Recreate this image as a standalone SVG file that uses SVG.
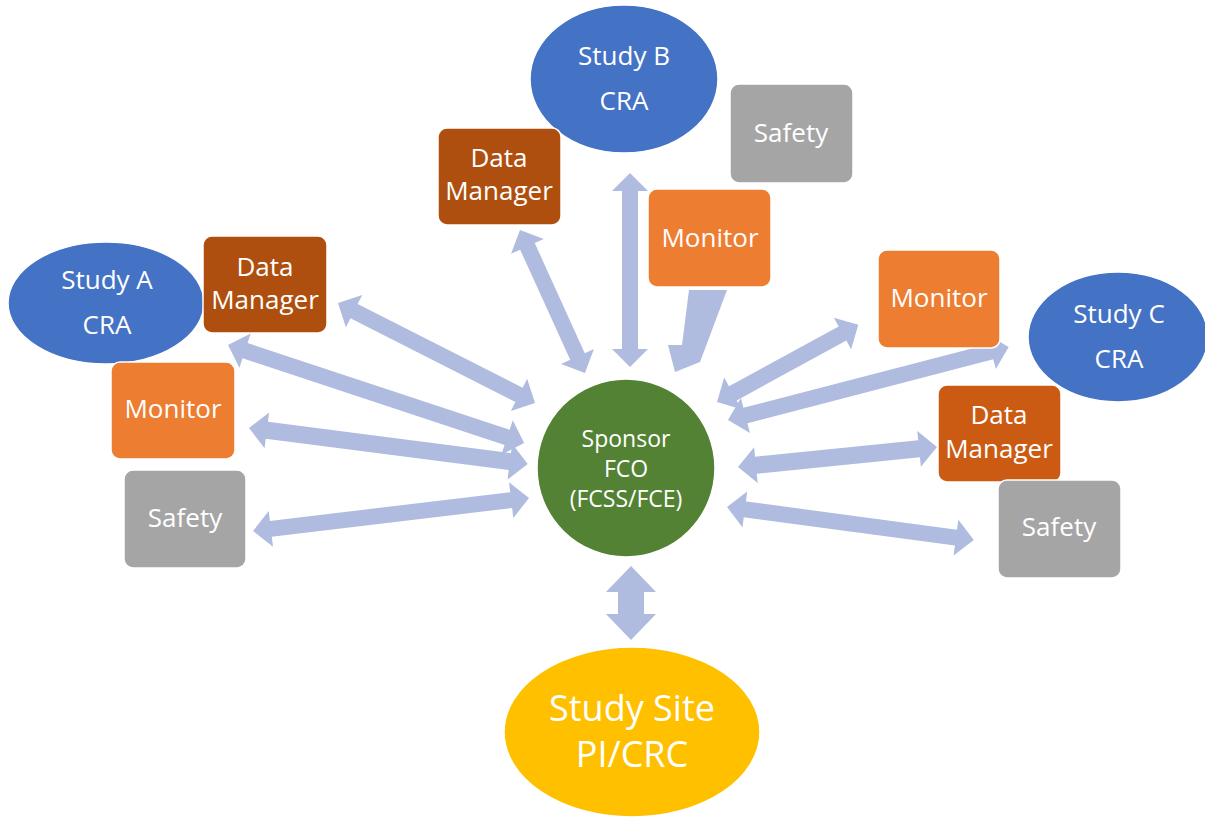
<svg xmlns="http://www.w3.org/2000/svg" width="1205" height="818" viewBox="0 0 1205 818">
<style>
.arr{fill:#AFBCDF}
.node{stroke:#FFFFFF;stroke-width:1.5}
.cra{fill:#4472C4}
.dmd{fill:#AF4F0F}
.dml{fill:#CB5B13}
.mon{fill:#ED7D31}
.saf{fill:#A5A5A5}
.sp{fill:#548235}
.site{fill:#FFC000}
text{font-family:"Open Sans","Noto Sans",sans-serif;fill:#FFFFFF;text-anchor:middle}
.t{font-size:26px}
.ts{font-size:23px}
.tb{font-size:36px}
</style>
<rect width="1205" height="818" fill="#FFFFFF"/>
<g id="connectors">
<polygon class="arr" transform="translate(338,303) rotate(26.92)" points="0,0 18,-18 18,-8 203,-8 203,-18 221,0 203,18 203,8 18,8 18,18"/>
<polygon class="arr" transform="translate(228,345) rotate(18.32)" points="0,0 18,-18 18,-8 294,-8 294,-18 312,0 294,18 294,8 18,8 18,18"/>
<polygon class="arr" transform="translate(249,428) rotate(7.35)" points="0,0 18,-18 18,-8.5 263,-8.5 263,-18 281,0 263,18 263,8.5 18,8.5 18,18"/>
<polygon class="arr" transform="translate(253,531) rotate(-6.82)" points="0,0 18,-18 18,-8 260,-8 260,-18 278,0 260,18 260,8 18,8 18,18"/>
<polygon class="arr" transform="translate(520,230) rotate(65.56)" points="0,0 18,-18 18,-8 139,-8 139,-18 157,0 139,18 139,8 18,8 18,18"/>
<polygon class="arr" transform="translate(630,173) rotate(90)" points="0,0 18,-18 18,-8 176,-8 176,-18 194,0 176,18 176,8 18,8 18,18"/>
<polygon class="arr" points="689,290 727,290 700,362 675,372 668,345 682,345"/>
<polygon class="arr" transform="translate(717,402) rotate(-28.64)" points="0,0 18,-18 18,-8 143,-8 143,-18 161,0 143,18 143,8 18,8 18,18"/>
<polygon class="arr" transform="translate(728,420) rotate(-14.56)" points="0,0 18,-18 18,-8 272,-8 272,-18 290,0 272,18 272,8 18,8 18,18"/>
<polygon class="arr" transform="translate(738,467) rotate(-5.74)" points="0,0 18,-18 18,-8.5 182,-8.5 182,-18 200,0 182,18 182,8.5 18,8.5 18,18"/>
<polygon class="arr" transform="translate(727,507) rotate(7.61)" points="0,0 18,-18 18,-8 231,-8 231,-18 249,0 231,18 231,8 18,8 18,18"/>
<polygon class="arr" transform="translate(631,566) rotate(90)" points="0,0 26,-25 26,-13 48,-13 48,-25 74,0 48,25 48,13 26,13 26,25"/>
</g>
<g id="studyA">
<ellipse class="node cra" cx="106" cy="303" rx="98" ry="61"/>
<text class="t" x="107" y="289">Study A</text>
<text class="t" x="107" y="334">CRA</text>
</g>
<g id="studyB">
<ellipse class="node cra" cx="624" cy="79" rx="94" ry="74"/>
<text class="t" x="624" y="65">Study B</text>
<text class="t" x="624" y="110">CRA</text>
</g>
<g id="studyC">
<ellipse class="node cra" cx="1118" cy="337" rx="90" ry="65"/>
<text class="t" x="1119" y="323">Study C</text>
<text class="t" x="1119" y="368">CRA</text>
</g>
<g id="dataManagerA">
<rect class="node dmd" x="203" y="236" width="124" height="97" rx="9"/>
<text class="t" x="265" y="276">Data</text>
<text class="t" x="265" y="309">Manager</text>
</g>
<g id="monitorA">
<rect class="node mon" x="111" y="362" width="124" height="97" rx="9"/>
<text class="t" x="173" y="418">Monitor</text>
</g>
<g id="safetyA">
<rect class="node saf" x="124" y="470" width="122" height="98" rx="9"/>
<text class="t" x="185" y="527">Safety</text>
</g>
<g id="dataManagerB">
<rect class="node dmd" x="438" y="128" width="123" height="97" rx="9"/>
<text class="t" x="499" y="167">Data</text>
<text class="t" x="499" y="200">Manager</text>
</g>
<g id="safetyB">
<rect class="node saf" x="730" y="84" width="123" height="99" rx="9"/>
<text class="t" x="791" y="142">Safety</text>
</g>
<g id="monitorB">
<rect class="node mon" x="648" y="189" width="123" height="98" rx="9"/>
<text class="t" x="710" y="247">Monitor</text>
</g>
<g id="monitorC">
<rect class="node mon" x="878" y="250" width="122" height="98" rx="9"/>
<text class="t" x="939" y="307">Monitor</text>
</g>
<g id="dataManagerC">
<rect class="node dml" x="938" y="385" width="123" height="97" rx="9"/>
<text class="t" x="999" y="424">Data</text>
<text class="t" x="999" y="458">Manager</text>
</g>
<g id="safetyC">
<rect class="node saf" x="998" y="480" width="123" height="98" rx="9"/>
<text class="t" x="1059" y="536">Safety</text>
</g>
<g id="sponsor">
<circle class="node sp" cx="626" cy="468" r="89"/>
<text class="ts" x="626" y="447">Sponsor</text>
<text class="ts" x="626" y="477">FCO</text>
<text class="ts" x="626" y="507">(FCSS/FCE)</text>
</g>
<g id="studySite">
<ellipse class="node site" cx="632" cy="732" rx="128" ry="85"/>
<text class="tb" x="632" y="721">Study Site</text>
<text class="tb" x="632" y="767">PI/CRC</text>
</g>
</svg>
